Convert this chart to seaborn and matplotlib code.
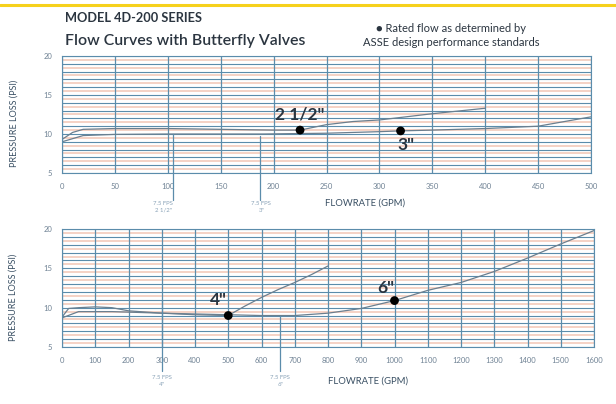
import matplotlib
matplotlib.use("Agg")
import matplotlib.pyplot as plt
import seaborn as sns
import pandas as pd
import numpy as np
from matplotlib.transforms import offset_copy

sns.set_style("white")
plt.rcParams['font.family'] = ['Lato', 'DejaVu Sans']

# Upper panel: 2 1/2" and 3" assemblies (flow in GPM, loss in PSI)
flow_2half = [0, 10, 20, 50, 100, 150, 200, 225, 250, 275, 300, 350, 400]
psi_2half = [9.3, 10.2, 10.6, 10.7, 10.7, 10.6, 10.5, 10.5, 11.2, 11.6, 11.8, 12.6, 13.3]
flow_3 = [0, 20, 50, 100, 150, 190, 250, 300, 320, 350, 400, 450, 475, 500]
psi_3 = [9.0, 9.8, 9.95, 10.0, 10.0, 10.0, 10.1, 10.3, 10.4, 10.5, 10.7, 11.0, 11.6, 12.2]

# Lower panel: 4" and 6" assemblies
flow_4 = [0, 20, 50, 100, 150, 200, 300, 400, 500, 550, 600, 650, 700, 750, 800]
psi_4 = [8.8, 9.9, 10.0, 10.1, 10.0, 9.6, 9.3, 9.1, 9.0, 10.2, 11.3, 12.3, 13.2, 14.2, 15.3]
flow_6 = [0, 50, 150, 300, 400, 500, 600, 700, 800, 900, 1000, 1100, 1200, 1300, 1400, 1500, 1600]
psi_6 = [8.7, 9.5, 9.5, 9.3, 9.2, 9.1, 9.0, 9.0, 9.3, 9.9, 10.9, 12.2, 13.2, 14.6, 16.3, 18.1, 19.8]

# Rated flow points (ASSE)
rated_sizes_top = ['2 1/2"', '3"']
rated_flow_top = [225, 320]
rated_psi_top = [10.5, 10.4]
rated_sizes_bot = ['4"', '6"']
rated_flow_bot = [500, 1000]
rated_psi_bot = [9.0, 10.9]

# Velocity reference flows
vel_flow_top = [105, 187]
vel_psi_top = [10.0, 9.8]
vel_labels_top = ['7.5 FPS\n2 1/2"', '7.5 FPS\n3"']
vel_flow_bot = [300, 656]
vel_psi_bot = [11.0, 9.0]
vel_labels_bot = ['7.5 FPS\n4"', '7.5 FPS\n6"']

xticks_top = list(range(0, 501, 50))
xticks_bot = list(range(0, 1601, 100))
yticks = [5, 10, 15, 20]

BLUE = '#5b8cab'
PINK = '#f5cfc0'
CURVE = '#6b7f8f'
LABEL = '#3a5064'
TICK = '#6f8294'
DARK = '#2b3540'

fig = plt.figure(figsize=(6.16, 4.04), dpi=100)
W, H = 616, 404


def axes_px(x0, y0, x1, y1):
    return fig.add_axes([x0 / W, 1 - y1 / H, (x1 - x0) / W, (y1 - y0) / H])


ax_top = axes_px(62, 56, 591, 173)
ax_bot = axes_px(62, 229, 594, 347)


def style_axes(ax, xticks):
    ax.set_xlim(xticks[0], xticks[-1])
    ax.set_ylim(5, 20)
    for v in np.arange(5.5, 20, 1.0):
        ax.axhline(v, color=PINK, lw=1.3, zorder=0)
    for v in np.arange(5, 20.01, 1.0):
        ax.axhline(v, color=BLUE, lw=0.8, zorder=0.5)
    ax.set_xticks(xticks)
    ax.set_yticks(yticks)
    ax.grid(axis='x', color=BLUE, lw=0.9, zorder=0.5)
    ax.grid(axis='y', visible=False)
    ax.tick_params(length=0, labelsize=5.5, labelcolor=TICK, pad=7)
    for s in ax.spines.values():
        s.set_color(BLUE)
        s.set_linewidth(0.8)


def label_axes(ax, xlab_pos):
    ax.set_xlabel('')
    ax.set_ylabel('PRESSURE LOSS (PSI)', fontsize=6.5, color=LABEL)
    ax.yaxis.set_label_coords(-0.083, 0.42)
    ax.text(xlab_pos[0], xlab_pos[1], 'FLOWRATE (GPM)', transform=ax.transAxes,
            fontsize=6.8, color=LABEL, ha='left', va='center')


def draw_curves(ax, curves):
    for fl, ps in curves:
        df = pd.DataFrame({'flow': fl, 'psi': ps})
        sns.lineplot(data=df, x='flow', y='psi', ax=ax, color=CURVE, lw=0.9,
                     zorder=2, estimator=None, sort=False)


def draw_rated(ax, sizes, flows, psis, offsets):
    df = pd.DataFrame({'flow': flows, 'psi': psis})
    sns.scatterplot(data=df, x='flow', y='psi', ax=ax, color='black', s=40,
                    edgecolor='none', zorder=4)
    for name, f, p, (dx, dy) in zip(sizes, flows, psis, offsets):
        ax.annotate(name, (f, p), xytext=(dx, dy), textcoords='offset points',
                    ha='center', va='center', fontsize=12.5, fontweight='bold',
                    color=DARK, zorder=5)


def draw_velocity(ax, flows, psis, labels, y_end, y_lab, label_shift):
    tr = ax.get_xaxis_transform()
    for f, p, lab, dx in zip(flows, psis, labels, label_shift):
        top = (p - 5) / 15
        ax.plot([f, f], [top, y_end], transform=tr, color=BLUE, lw=0.9,
                clip_on=False, zorder=3)
        ax.text(f, y_lab, lab, transform=offset_copy(tr, fig=fig, x=dx, units='points'),
                ha='center', va='top', fontsize=4.3, color='#8aa3b8',
                linespacing=1.4)


style_axes(ax_top, xticks_top)
draw_curves(ax_top, [(flow_2half, psi_2half), (flow_3, psi_3)])
draw_rated(ax_top, rated_sizes_top, rated_flow_top, rated_psi_top,
           [(0, 11), (4, -10)])
draw_velocity(ax_top, vel_flow_top, vel_psi_top, vel_labels_top, -0.23, -0.24,
              [-7, 1])
label_axes(ax_top, (0.497, -0.256))

style_axes(ax_bot, xticks_bot)
draw_curves(ax_bot, [(flow_4, psi_4), (flow_6, psi_6)])
draw_rated(ax_bot, rated_sizes_bot, rated_flow_bot, rated_psi_bot,
           [(-7, 11), (-6, 9)])
draw_velocity(ax_bot, vel_flow_bot, vel_psi_bot, vel_labels_bot, -0.2, -0.24,
              [0, 0])
label_axes(ax_bot, (0.5, -0.288))

# Header
fig.add_artist(plt.Line2D([0, 1], [1 - 5 / H, 1 - 5 / H], color='#f6d11c',
                          lw=2.2, transform=fig.transFigure))
fig.text(65 / W, 1 - 18 / H, 'MODEL 4D-200 SERIES', fontsize=9.2,
         fontweight='bold', color=DARK, va='center', ha='left')
fig.text(65 / W, 1 - 41 / H, 'Flow Curves with Butterfly Valves', fontsize=11.4,
         fontweight='semibold', color=DARK, va='center', ha='left')
fig.text(451 / W, 1 - 29 / H, '\u25CF Rated flow as determined by', fontsize=8,
         color=DARK, va='center', ha='center')
fig.text(451 / W, 1 - 43 / H, 'ASSE design performance standards', fontsize=8,
         color=DARK, va='center', ha='center')

fig.savefig('out.png', dpi=100, facecolor='white')
